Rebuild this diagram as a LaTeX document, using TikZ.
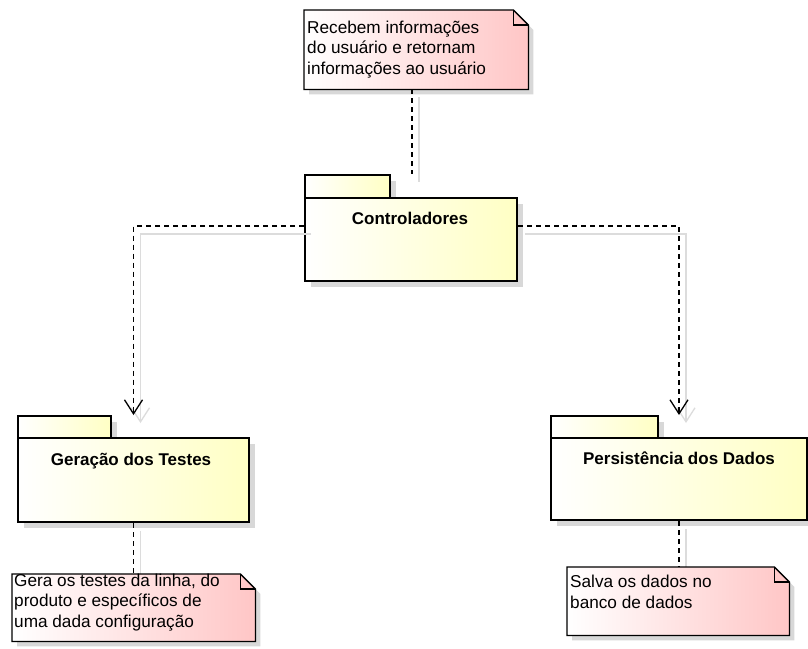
\documentclass[tikz,border=0pt]{standalone}
\usepackage{fontspec}
\setmainfont{Liberation Sans}
\usetikzlibrary{arrows.meta,shadows}

\definecolor{pkgyellow}{RGB}{255,255,196}
\definecolor{notepink}{RGB}{255,198,198}
\definecolor{shadowgray}{RGB}{216,216,216}
\definecolor{ghostgray}{RGB}{220,220,220}

\tikzset{
  pkgpart/.style={draw=black, line width=2pt, left color=white, right color=pkgyellow,
    inner sep=0pt, anchor=north west,
    drop shadow={shadow xshift=6pt, shadow yshift=-6pt, fill=shadowgray, opacity=1}},
  pkgtitle/.style={font=\fontsize{17pt}{20pt}\selectfont\bfseries, anchor=base, inner sep=0pt},
  notearea/.style={inner sep=0pt, anchor=north west},
  notefill/.style={draw=black, line width=1.3pt, line join=miter, left color=white, right color=notepink},
  % base anchor of a multi-line text sits on its last line
  notetext/.style={font=\fontsize{17.2pt}{20.5pt}\selectfont, align=left, anchor=base west, inner sep=0pt},
  dep/.style={draw=black, line width=1.3pt, dash pattern=on 5pt off 4pt,
    preaction={draw=ghostgray, solid, line width=1.3pt, transform canvas={shift={(7pt,-8pt)}}}},
  deparrow/.style={dep, -{Straight Barb[length=14pt, width=18pt, line width=1.3pt]}},
}

% folded-corner note drawn over the area of a named node
\newcommand\notepaper[1]{%
  \fill[shadowgray] ([shift={(5,5)}]#1.north west) -- ([shift={(-10,5)}]#1.north east)
    -- ([shift={(5,20)}]#1.north east) -- ([shift={(5,5)}]#1.south east)
    -- ([shift={(5,5)}]#1.south west) -- cycle;
  \path[notefill] (#1.north west) -- ([shift={(-15,0)}]#1.north east)
    -- ([shift={(0,15)}]#1.north east) -- (#1.south east) -- (#1.south west) -- cycle;
  \draw[line width=1.3pt] ([shift={(-15,0)}]#1.north east) -- ([shift={(-15,15)}]#1.north east)
    -- ([shift={(0,15)}]#1.north east);
}

\begin{document}
\begin{tikzpicture}[x=1pt, y=-1pt]
\useasboundingbox (0,0) rectangle (808,648);
\fill[white] (0,0) rectangle (808,648);

% package: Controladores
\node[pkgpart, minimum width=85pt, minimum height=23pt] (ctab) at (304,174) {};
\node[pkgpart, minimum width=212pt, minimum height=83pt] (cbody) at (304,197) {};
\node[pkgtitle] (ctitle) at (410,224) {Controladores};

% package: Geração dos Testes
\node[pkgpart, minimum width=93pt, minimum height=22pt] (gtab) at (17,415) {};
\node[pkgpart, minimum width=231pt, minimum height=84pt] (gbody) at (17,437) {};
\node[pkgtitle] (gtitle) at (131,465) {Geração dos Testes};

% package: Persistência dos Dados
\node[pkgpart, minimum width=107pt, minimum height=22pt] (ptab) at (550,415) {};
\node[pkgpart, minimum width=256pt, minimum height=82pt] (pbody) at (550,437) {};
\node[pkgtitle] (ptitle) at (679,464) {Persistência dos Dados};

% note areas (the paper is drawn after the note links, so their shadows stay beneath)
\node[notearea, minimum width=224pt, minimum height=79pt] (n1) at (304,10) {};
\node[notearea, minimum width=243pt, minimum height=67pt] (n2) at (12,574) {};
\node[notearea, minimum width=222pt, minimum height=68pt] (n3) at (567,567) {};

\draw[dep] (gbody.south) -- (gbody.south |- n2.north);
\draw[dep] (pbody.south) -- (pbody.south |- n3.north);

\notepaper{n1}
\node[notetext] (n1t) at (307,74) {Recebem informações\\do usuário e retornam\\informações ao usuário};

\notepaper{n2}
\node[notetext] (n2t) at (14,627) {Gera os testes da linha, do\\produto e específicos de\\uma dada configuração};

\notepaper{n3}
\node[notetext] (n3t) at (570,608) {Salva os dados no\\banco de dados};

% dependencies from the controllers
\coordinate (ctop) at (412,174);
\draw[dep] (n1.south -| ctop) -- (ctop);
\draw[deparrow] ([shift={(0,-13.5)}]cbody.west) -| (gbody.north |- gtab.north);
\draw[deparrow] ([shift={(0,-13.5)}]cbody.east) -| (pbody.north |- ptab.north);
\end{tikzpicture}
\end{document}
